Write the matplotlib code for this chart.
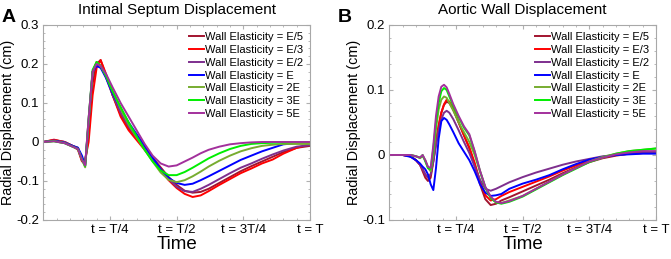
import numpy as np
import matplotlib
matplotlib.use('Agg')
import matplotlib.pyplot as plt
from matplotlib.ticker import MultipleLocator

plt.rcParams['font.family'] = ['Liberation Sans', 'DejaVu Sans']

#---Datos---------------------------------------------------------------------
labels = ['Wall Elasticity = E/5', 'Wall Elasticity = E/3', 'Wall Elasticity = E/2',
          'Wall Elasticity = E', 'Wall Elasticity = 2E', 'Wall Elasticity = 3E',
          'Wall Elasticity = 5E']
colors = ['#a2142f', '#ff0000', '#7e2f8e', '#0000ff', '#77ac30', '#00ee00', '#a3309c']

tick_pos = [0.25, 0.5, 0.75, 1.0]
tick_labels = ['t = T/4', 't = T/2', 't = 3T/4', 't = T']

# Panel A: Intimal Septum
t_septum = [0, 0.04, 0.08, 0.11, 0.13, 0.145, 0.157, 0.17, 0.185, 0.2, 0.215, 0.235,
            0.26, 0.29, 0.32, 0.35, 0.38, 0.41, 0.44, 0.47, 0.50, 0.53, 0.56, 0.59,
            0.62, 0.66, 0.70, 0.74, 0.78, 0.82, 0.86, 0.90, 0.95, 1.0]
septum_e5 = [0, 0.005, 0.0, -0.01, -0.015, -0.048, -0.055, 0.02, 0.15, 0.2, 0.21, 0.17,
             0.12, 0.07, 0.035, 0.01, -0.015, -0.04, -0.065, -0.09, -0.11, -0.125, -0.13, -0.128,
             -0.12, -0.105, -0.09, -0.075, -0.062, -0.05, -0.038, -0.026, -0.015, -0.01]
septum_e3 = [0, 0.006, 0.0, -0.01, -0.02, -0.05, -0.045, 0.0, 0.12, 0.19, 0.21, 0.175,
             0.12, 0.065, 0.03, 0.005, -0.02, -0.045, -0.072, -0.098, -0.118, -0.133, -0.141, -0.137,
             -0.126, -0.11, -0.095, -0.08, -0.068, -0.055, -0.045, -0.03, -0.015, -0.006]
septum_e2 = [0, 0.004, 0.0, -0.01, -0.015, -0.045, -0.06, 0.06, 0.18, 0.205, 0.195, 0.165,
             0.12, 0.075, 0.04, 0.012, -0.015, -0.042, -0.07, -0.095, -0.115, -0.126, -0.128, -0.12,
             -0.11, -0.095, -0.08, -0.066, -0.055, -0.043, -0.032, -0.022, -0.012, -0.008]
septum_1e = [0, 0.003, -0.002, -0.01, -0.015, -0.035, -0.06, 0.05, 0.18, 0.195, 0.19, 0.165,
             0.125, 0.085, 0.05, 0.02, -0.01, -0.04, -0.07, -0.092, -0.105, -0.11, -0.107, -0.098,
             -0.088, -0.074, -0.06, -0.046, -0.035, -0.024, -0.015, -0.006, -0.003, -0.003]
septum_2e = [0, 0.002, -0.003, -0.012, -0.018, -0.045, -0.065, 0.05, 0.18, 0.205, 0.195, 0.17,
             0.13, 0.085, 0.045, 0.012, -0.02, -0.05, -0.078, -0.097, -0.103, -0.098, -0.088, -0.076,
             -0.063, -0.048, -0.035, -0.024, -0.016, -0.01, -0.007, -0.005, -0.005, -0.005]
septum_3e = [0, 0.002, -0.003, -0.012, -0.018, -0.045, -0.062, 0.06, 0.185, 0.205, 0.195, 0.17,
             0.13, 0.09, 0.05, 0.015, -0.02, -0.05, -0.073, -0.085, -0.085, -0.077, -0.066, -0.054,
             -0.042, -0.029, -0.018, -0.01, -0.005, -0.003, -0.002, -0.001, 0.0, 0.0]
septum_5e = [0, 0.002, -0.003, -0.012, -0.018, -0.045, -0.06, 0.06, 0.18, 0.2, 0.195, 0.175,
             0.14, 0.1, 0.065, 0.03, -0.005, -0.035, -0.055, -0.063, -0.06, -0.05, -0.04, -0.029,
             -0.02, -0.012, -0.006, -0.003, -0.001, 0.0, 0.0, 0.0, 0.0, 0.0]

# Panel B: Aortic Wall
t_aorta = [0, 0.05, 0.08, 0.1, 0.115, 0.125, 0.135, 0.145, 0.155, 0.165, 0.175, 0.185,
           0.195, 0.205, 0.215, 0.225, 0.24, 0.26, 0.28, 0.3, 0.32, 0.34, 0.36, 0.38,
           0.4, 0.42, 0.45, 0.5, 0.55, 0.6, 0.65, 0.7, 0.75, 0.8, 0.85, 0.9, 0.95, 1.0]
aorta_e5 = [0, 0, -0.002, -0.008, -0.015, -0.025, -0.035, -0.04, -0.035, -0.01, 0.02, 0.045,
            0.065, 0.077, 0.082, 0.08, 0.07, 0.05, 0.03, 0.01, -0.015, -0.045, -0.068, -0.077,
            -0.075, -0.07, -0.065, -0.056, -0.047, -0.038, -0.028, -0.019, -0.011, -0.005, -0.001, 0.002, 0.004, 0.005]
aorta_e3 = [0, 0, -0.002, -0.008, -0.015, -0.022, -0.03, -0.035, -0.03, -0.008, 0.02, 0.045,
            0.065, 0.078, 0.085, 0.082, 0.07, 0.05, 0.03, 0.012, -0.012, -0.04, -0.062, -0.07,
            -0.068, -0.063, -0.057, -0.049, -0.041, -0.033, -0.024, -0.016, -0.009, -0.004, 0.0, 0.002, 0.003, 0.004]
aorta_e2 = [0, 0, -0.002, -0.008, -0.015, -0.022, -0.03, -0.035, -0.03, -0.01, 0.015, 0.038,
            0.055, 0.065, 0.068, 0.065, 0.055, 0.038, 0.02, 0.003, -0.018, -0.038, -0.052, -0.055,
            -0.052, -0.048, -0.042, -0.034, -0.027, -0.021, -0.015, -0.01, -0.006, -0.002, 0.0, 0.002, 0.003, 0.004]
aorta_1e = [0, 0, -0.003, -0.008, -0.013, -0.018, -0.022, -0.03, -0.045, -0.054, -0.02, 0.025,
            0.052, 0.057, 0.054, 0.047, 0.035, 0.018, 0.005, -0.008, -0.025, -0.045, -0.058, -0.063,
            -0.062, -0.06, -0.052, -0.044, -0.038, -0.031, -0.022, -0.014, -0.007, -0.003, 0.0, 0.001, 0.002, 0.002]
aorta_2e = [0, 0, 0, -0.002, -0.005, -0.002, -0.008, -0.02, -0.025, 0.0, 0.04, 0.07,
            0.085, 0.09, 0.088, 0.08, 0.068, 0.05, 0.035, 0.02, 0.0, -0.025, -0.05, -0.066,
            -0.073, -0.074, -0.07, -0.063, -0.052, -0.041, -0.03, -0.02, -0.01, -0.003, 0.002, 0.006, 0.008, 0.01]
aorta_3e = [0, 0, 0, -0.002, -0.004, 0.0, -0.01, -0.02, -0.022, 0.01, 0.05, 0.08,
            0.098, 0.103, 0.1, 0.09, 0.075, 0.058, 0.042, 0.03, 0.005, -0.025, -0.05, -0.066,
            -0.073, -0.075, -0.072, -0.064, -0.053, -0.042, -0.031, -0.021, -0.011, -0.004, 0.002, 0.006, 0.008, 0.01]
aorta_5e = [0, 0, 0, -0.002, -0.004, 0.0, -0.008, -0.018, -0.02, 0.015, 0.06, 0.09,
            0.105, 0.108, 0.104, 0.094, 0.078, 0.06, 0.044, 0.032, 0.006, -0.024, -0.049, -0.064,
            -0.072, -0.074, -0.071, -0.063, -0.052, -0.041, -0.03, -0.02, -0.01, -0.004, 0.001, 0.004, 0.006, 0.006]

panels = [
    dict(t=t_septum, ys=[septum_e5, septum_e3, septum_e2, septum_1e, septum_2e, septum_3e, septum_5e],
         title='Intimal Septum Displacement', ylim=(-0.2, 0.3), letter='A', left=0.0645, lx=0.003),
    dict(t=t_aorta, ys=[aorta_e5, aorta_e3, aorta_e2, aorta_1e, aorta_2e, aorta_3e, aorta_5e],
         title='Aortic Wall Displacement', ylim=(-0.1, 0.2), letter='B', left=0.5802, lx=0.504),
]

fig = plt.figure(figsize=(6.71, 2.59), dpi=100)

for p in panels:
    ax = fig.add_axes([p['left'], 0.1506, 0.3975, 0.753])
    for y, c, lab in zip(p['ys'], colors, labels):
        ax.plot(p['t'], y, color=c, lw=1.4, label=lab)
    ax.set_xlim(0, 1)
    ax.set_ylim(*p['ylim'])
    ax.set_xticks(tick_pos)
    ax.set_xticklabels(tick_labels)
    ax.yaxis.set_major_locator(MultipleLocator(0.1))
    ax.xaxis.set_minor_locator(MultipleLocator(0.05))
    ax.yaxis.set_minor_locator(MultipleLocator(0.02))
    ax.yaxis.set_major_formatter(plt.FuncFormatter(lambda v, pos: '0' if abs(v) < 1e-9 else '%g' % v))
    ax.tick_params(which='both', direction='in', top=True, right=True, color='#b0b0b0',
                   labelsize=9.5, pad=3)
    ax.tick_params(which='major', length=3)
    ax.tick_params(which='minor', length=1.5)
    for s in ax.spines.values():
        s.set_color('#a8a8a8')
        s.set_linewidth(0.8)
    ax.set_title(p['title'], fontsize=11, pad=8)
    ax.set_ylabel('Radial Displacement (cm)', fontsize=10.4)
    ax.yaxis.set_label_coords(-0.106, 0.5)
    ax.set_xlabel('Time', fontsize=13.5, labelpad=0)
    ax.legend(loc='upper right', frameon=False, fontsize=8, handlelength=1.3,
              handletextpad=0.1, labelspacing=0.25, borderaxespad=0.25)
    fig.text(p['lx'], 0.965, p['letter'], fontsize=14, fontweight='bold', va='top')

fig.savefig('out.png', dpi=100)
